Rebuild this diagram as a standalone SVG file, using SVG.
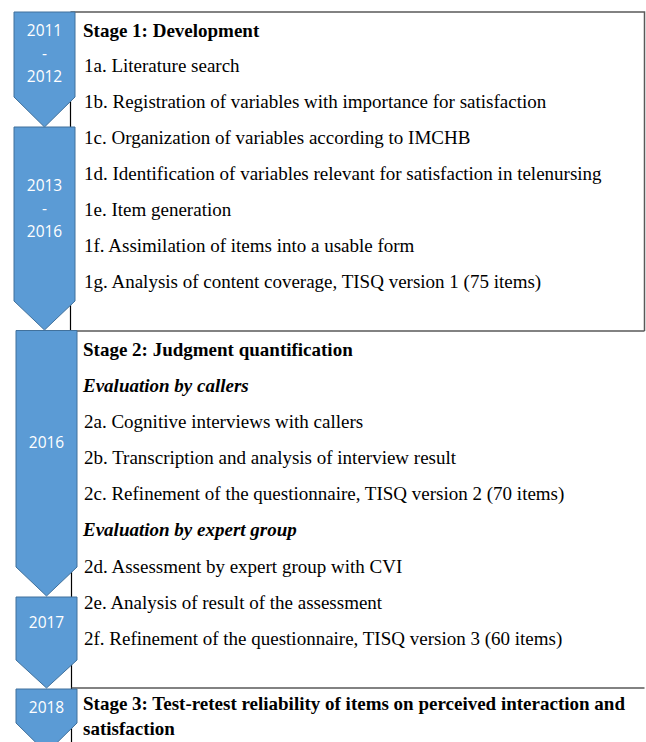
<svg xmlns="http://www.w3.org/2000/svg" width="646" height="742" viewBox="0 0 646 742">
<style>
.bg{fill:#ffffff}
.arrow{fill:#5b9bd5;stroke:#41719c;stroke-width:1}
.yr{font-family:"Open Sans","Liberation Sans",sans-serif;font-size:15.5px;fill:#ffffff;text-anchor:middle}
.ln{stroke:#595959;stroke-width:1.5;fill:none}
.lnl{stroke:#000000;stroke-width:1.2;fill:none}
.t{font-family:"Liberation Serif","Times New Roman",serif;font-size:19px;fill:#000000}
.b{font-weight:bold}
.bi{font-weight:bold;font-style:italic}
</style>
<rect class="bg" x="0" y="0" width="646" height="742"/>
<g id="stage1">
<path class="ln" d="M70.5,12 H644.5 V331"/>
<path class="lnl" d="M70.5,12 V331"/>
<text class="t b" x="83" y="36.5">Stage 1: Development</text>
<text class="t" x="84" y="72.3">1a. Literature search</text>
<text class="t" x="84" y="108.3">1b. Registration of variables with importance for satisfaction</text>
<text class="t" x="84" y="144.2">1c. Organization of variables according to IMCHB</text>
<text class="t" x="84" y="180.2">1d. Identification of variables relevant for satisfaction in telenursing</text>
<text class="t" x="84" y="216.2">1e. Item generation</text>
<text class="t" x="84" y="252.2">1f. Assimilation of items into a usable form</text>
<text class="t" x="84" y="288.2">1g. Analysis of content coverage, TISQ version 1 (75 items)</text>
</g>
<g id="stage2">
<path class="ln" d="M70.5,331 H644.5"/>
<path class="lnl" d="M71.5,331 V688"/>
<text class="t b" x="83" y="356.3">Stage 2: Judgment quantification</text>
<text class="t bi" x="83" y="392.2">Evaluation by callers</text>
<text class="t" x="84" y="428.2">2a. Cognitive interviews with callers</text>
<text class="t" x="84" y="464">2b. Transcription and analysis of interview result</text>
<text class="t" x="84" y="500">2c. Refinement of the questionnaire, TISQ version 2 (70 items)</text>
<text class="t bi" x="83" y="536">Evaluation by expert group</text>
<text class="t" x="84" y="572.5">2d. Assessment by expert group with CVI</text>
<text class="t" x="84" y="609.3">2e. Analysis of result of the assessment</text>
<text class="t" x="84" y="645">2f. Refinement of the questionnaire, TISQ version 3 (60 items)</text>
</g>
<g id="stage3">
<path class="ln" d="M71.5,688 H644.5"/>
<path class="lnl" d="M71.5,688 V742"/>
<text class="t b" x="83" y="710">Stage 3: Test-retest reliability of items on perceived interaction and</text>
<text class="t b" x="83" y="735">satisfaction</text>
</g>
<g id="year-2011-2012">
<polygon class="arrow" points="14,12 75,12 75,97 44.5,127 14,97"/>
<text class="yr" x="44.5" y="35.7">2011</text>
<text class="yr" x="44.5" y="58.7">-</text>
<text class="yr" x="44.5" y="81.7">2012</text>
</g>
<g id="year-2013-2016">
<polygon class="arrow" points="14,127 75,127 75,301 44.5,330 14,301"/>
<text class="yr" x="44.5" y="190.7">2013</text>
<text class="yr" x="44.5" y="213.7">-</text>
<text class="yr" x="44.5" y="236.7">2016</text>
</g>
<g id="year-2016">
<polygon class="arrow" points="16,330.5 77,330.5 77,567 46.5,596 16,567"/>
<text class="yr" x="46.5" y="448.3">2016</text>
</g>
<g id="year-2017">
<polygon class="arrow" points="16,597 77,597 77,660 46.5,688 16,660"/>
<text class="yr" x="46.5" y="628.3">2017</text>
</g>
<g id="year-2018">
<polygon class="arrow" points="16,689 77,689 77,723 46.5,753 16,723"/>
<text class="yr" x="46.5" y="713.3">2018</text>
</g>
<g id="connectors"/>
</svg>
